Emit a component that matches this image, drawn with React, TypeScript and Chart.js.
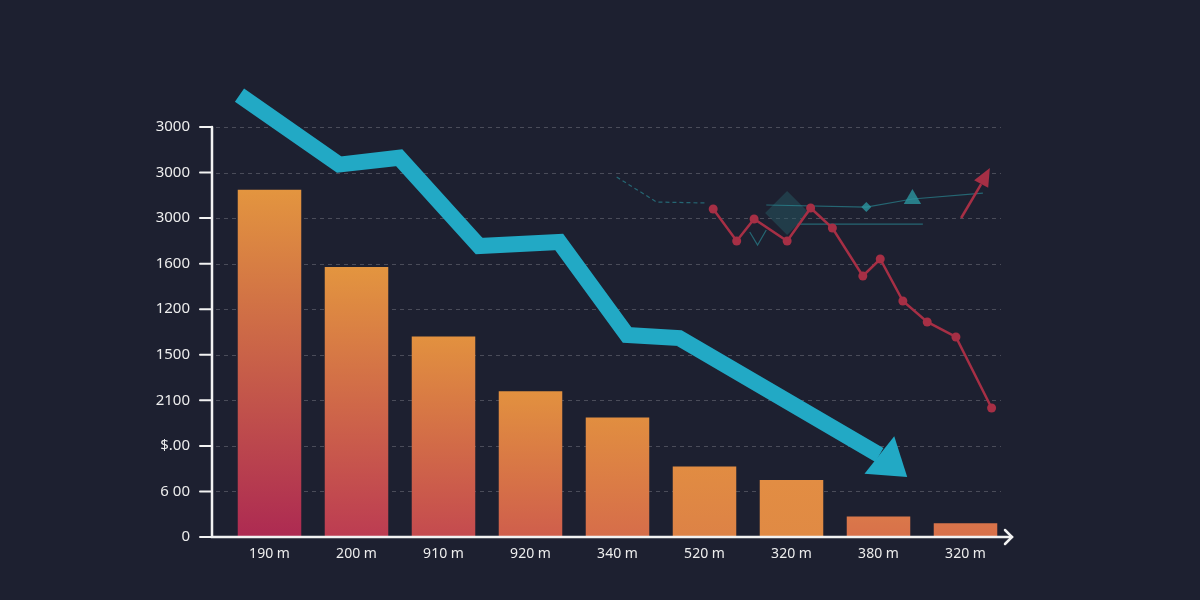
import { useEffect, useRef } from 'react';
import { Chart, registerables } from 'chart.js';

Chart.register(...registerables);

// categories and bar heights
const categories = ['190 m', '200 m', '910 m', '920 m', '340 m', '520 m', '320 m', '380 m', '320 m'];
const barValues = [3050, 2370, 1760, 1280, 1050, 620, 500, 180, 120];

// y ticks (the printed labels do not follow the scale)
const yTickLabels = ['0', '6 00', '$.00', '2100', '1500', '1200', '1600', '3000', '3000', '3000'];
const yStep = 400;
const yMax = 3600;

// big cyan trend arrow, x in category units; tip = where the head points
const trendX = [-0.345, 0.8, 1.49, 2.41, 3.33, 4.11, 4.71, 7.01];
const trendY = [3880, 3270, 3330, 2555, 2590, 1774, 1747, 720];
const trendTip = { x: 7.33, y: 527 };

// red line with markers
const redX = [5.1, 5.37, 5.57, 5.95, 6.22, 6.47, 6.82, 7.02, 7.28, 7.56, 7.89, 8.3];
const redY = [2880, 2599, 2792, 2599, 2889, 2713, 2292, 2441, 2072, 1888, 1756, 1133];

// small red upward arrow
const redUpX = [7.95, 8.18];
const redUpY = [2801, 3099];
const redUpTip = { x: 8.28, y: 3240 };

// faint teal decorations
const tealAX = [3.99, 4.45, 5.02];
const tealAY = [3161, 2941, 2933];
const tealBX = [5.71, 6.86, 7.39, 8.2];
const tealBY = [2915, 2897, 2968, 3020];
const tealCX = [6.07, 7.51];
const tealCY = [2748, 2748];
const tealVX = [5.52, 5.61, 5.71];
const tealVY = [2678, 2564, 2695];
const diamondX = [5.95];
const diamondY = [2845];

const barBottom = ['#ad2a52', '#bc3c52', '#c44a4f', '#cf5e4c', '#d66d4a', '#dd8246', '#e08a44', '#d8704a', '#d8704a'];
const barTop = ['#e3953f', '#e3953f', '#e2913f', '#e2913f', '#e18e40', '#e18c42', '#e28d43', '#da784a', '#d9744a'];

const BG = '#1d2030';
const CYAN = '#22a9c5';
const RED = '#a62f45';
const TEAL = 'rgba(44, 150, 160, 0.6)';
const FONT = '"Noto Sans", sans-serif';

const pts = (xs: number[], ys: number[]) => xs.map((x, i) => ({ x, y: ys[i] }));

// triangle with its base centred on `base` and its point at `tip`
function arrowHead(ctx: CanvasRenderingContext2D, base: any, tip: any, half: number, color: string) {
  const a = Math.atan2(tip.y - base.y, tip.x - base.x);
  const c = Math.cos(a);
  const s = Math.sin(a);
  ctx.beginPath();
  ctx.moveTo(tip.x, tip.y);
  ctx.lineTo(base.x - s * half, base.y + c * half);
  ctx.lineTo(base.x + s * half, base.y - c * half);
  ctx.closePath();
  ctx.fillStyle = color;
  ctx.fill();
}

const decorPlugin = {
  id: 'decor',
  beforeDatasetsDraw(chart: any) {
    const { ctx, chartArea, scales } = chart;
    const axisX = chartArea.left - 14;
    ctx.save();
    ctx.strokeStyle = 'rgba(255,255,255,0.2)';
    ctx.lineWidth = 1;
    ctx.setLineDash([4, 4]);
    scales.y.ticks.forEach((t: any) => {
      if (t.value === 0) return;
      const y = Math.round(scales.y.getPixelForValue(t.value)) + 0.5;
      ctx.beginPath();
      ctx.moveTo(axisX + 4, y);
      ctx.lineTo(chartArea.right - 8, y);
      ctx.stroke();
    });
    ctx.restore();
  },
  afterDatasetsDraw(chart: any) {
    const { ctx, chartArea, scales } = chart;
    const axisX = chartArea.left - 14;
    const bottom = chartArea.bottom;
    ctx.save();
    // arrow heads
    chart.data.datasets.forEach((ds: any, i: number) => {
      if (!ds.arrowTip) return;
      const meta = chart.getDatasetMeta(i);
      const base = meta.data[meta.data.length - 1];
      const tip = {
        x: scales.x2.getPixelForValue(ds.arrowTip.x),
        y: scales.y.getPixelForValue(ds.arrowTip.y),
      };
      arrowHead(ctx, base, tip, ds.arrowHalf, ds.borderColor);
    });
    // axes
    ctx.strokeStyle = '#f2f2f2';
    ctx.lineWidth = 2.5;
    ctx.lineCap = 'round';
    ctx.beginPath();
    ctx.moveTo(axisX, chartArea.top);
    ctx.lineTo(axisX, bottom);
    ctx.lineTo(chartArea.right + 3, bottom);
    ctx.stroke();
    ctx.beginPath();
    ctx.moveTo(chartArea.right - 4, bottom - 7);
    ctx.lineTo(chartArea.right + 3, bottom);
    ctx.lineTo(chartArea.right - 4, bottom + 7);
    ctx.stroke();
    ctx.lineWidth = 2;
    scales.y.ticks.forEach((t: any) => {
      const y = scales.y.getPixelForValue(t.value);
      ctx.beginPath();
      ctx.moveTo(axisX - 12, y);
      ctx.lineTo(axisX, y);
      ctx.stroke();
    });
    ctx.restore();
  },
};

const bgPlugin = {
  id: 'bg',
  beforeDraw(chart: any) {
    const { ctx, width, height } = chart;
    ctx.save();
    ctx.fillStyle = BG;
    ctx.fillRect(0, 0, width, height);
    ctx.restore();
  },
};

export default function App() {
  const canvasRef = useRef<HTMLCanvasElement | null>(null);

  useEffect(() => {
    document.body.style.margin = '0';
    document.body.style.background = BG;
    if (!canvasRef.current) return;

    const barColor = (c: any) => {
      const chart = c.chart;
      const area = chart.chartArea;
      const i = c.dataIndex;
      if (!area || i === undefined) return barTop[0];
      const top = chart.scales.y.getPixelForValue(barValues[i]);
      const g = chart.ctx.createLinearGradient(0, area.bottom, 0, top);
      g.addColorStop(0, barBottom[i]);
      g.addColorStop(1, barTop[i]);
      return g;
    };

    const line = (extra: any) => ({
      type: 'line',
      xAxisID: 'x2',
      clip: false,
      tension: 0,
      fill: false,
      ...extra,
    });

    const chart = new Chart(canvasRef.current, {
      type: 'bar',
      data: {
        labels: categories,
        datasets: [
          line({
            label: 'trend',
            data: pts(trendX, trendY),
            borderColor: CYAN,
            borderWidth: 16,
            borderJoinStyle: 'miter',
            borderCapStyle: 'butt',
            pointRadius: 0,
            arrowTip: trendTip,
            arrowHalf: 24,
            order: 0,
          }),
          line({
            label: 'red',
            data: pts(redX, redY),
            borderColor: RED,
            backgroundColor: RED,
            borderWidth: 2.5,
            pointRadius: 4.5,
            pointBorderWidth: 0,
            order: 1,
          }),
          line({
            label: 'redUp',
            data: pts(redUpX, redUpY),
            borderColor: RED,
            borderWidth: 2.5,
            pointRadius: 0,
            arrowTip: redUpTip,
            arrowHalf: 8,
            order: 1,
          }),
          line({
            label: 'tealA',
            data: pts(tealAX, tealAY),
            borderColor: TEAL,
            borderWidth: 1.2,
            borderDash: [4, 3],
            pointRadius: 0,
            order: 2,
          }),
          line({
            label: 'tealB',
            data: pts(tealBX, tealBY),
            borderColor: TEAL,
            backgroundColor: 'rgba(44, 150, 160, 0.8)',
            borderWidth: 1.2,
            pointStyle: ['circle', 'rectRot', 'triangle', 'circle'],
            pointRadius: [0, 5, 10, 0],
            pointBorderWidth: 0,
            order: 2,
          }),
          line({
            label: 'tealC',
            data: pts(tealCX, tealCY),
            borderColor: TEAL,
            borderWidth: 1.2,
            pointRadius: 0,
            order: 2,
          }),
          line({
            label: 'tealV',
            data: pts(tealVX, tealVY),
            borderColor: TEAL,
            borderWidth: 1.2,
            pointRadius: 0,
            order: 2,
          }),
          line({
            label: 'diamond',
            data: pts(diamondX, diamondY),
            showLine: false,
            pointStyle: 'rectRot',
            pointRadius: 22,
            backgroundColor: 'rgba(40, 95, 105, 0.45)',
            pointBorderWidth: 0,
            order: 3,
          }),
          {
            type: 'bar',
            label: 'bars',
            data: barValues,
            backgroundColor: barColor,
            borderWidth: 0,
            grouped: false,
            categoryPercentage: 1,
            barPercentage: 0.73,
            order: 4,
          },
        ] as any,
      },
      options: {
        animation: false,
        responsive: false,
        events: [],
        layout: { padding: { top: 127, right: 191, bottom: 0, left: 0 } },
        plugins: {
          legend: { display: false },
          tooltip: { enabled: false },
        },
        scales: {
          x: {
            type: 'category',
            offset: true,
            grid: { display: false, drawTicks: false },
            border: { display: false },
            ticks: {
              color: '#ededed',
              padding: 9,
              font: { family: FONT, size: 14 },
              maxRotation: 0,
            },
            afterFit: (s: any) => {
              s.height = 63;
            },
          },
          x2: {
            type: 'linear',
            display: false,
            offset: false,
            grid: { offset: false },
            min: -0.5,
            max: 8.5,
          },
          y: {
            type: 'linear',
            min: 0,
            max: yMax,
            grid: { display: false, drawTicks: false },
            border: { display: false },
            ticks: {
              stepSize: yStep,
              color: '#ededed',
              padding: 36,
              font: { family: FONT, size: 15 },
              callback: (v: any) => yTickLabels[Math.round(Number(v) / yStep)] ?? '',
            },
            afterFit: (s: any) => {
              s.width = 226;
            },
          },
        },
      } as any,
      plugins: [bgPlugin, decorPlugin],
    });

    return () => chart.destroy();
  }, []);

  return (
    <div style={{ width: 1200, height: 600, background: BG }}>
      <canvas ref={canvasRef} width={1200} height={600} style={{ display: 'block' }} />
    </div>
  );
}
